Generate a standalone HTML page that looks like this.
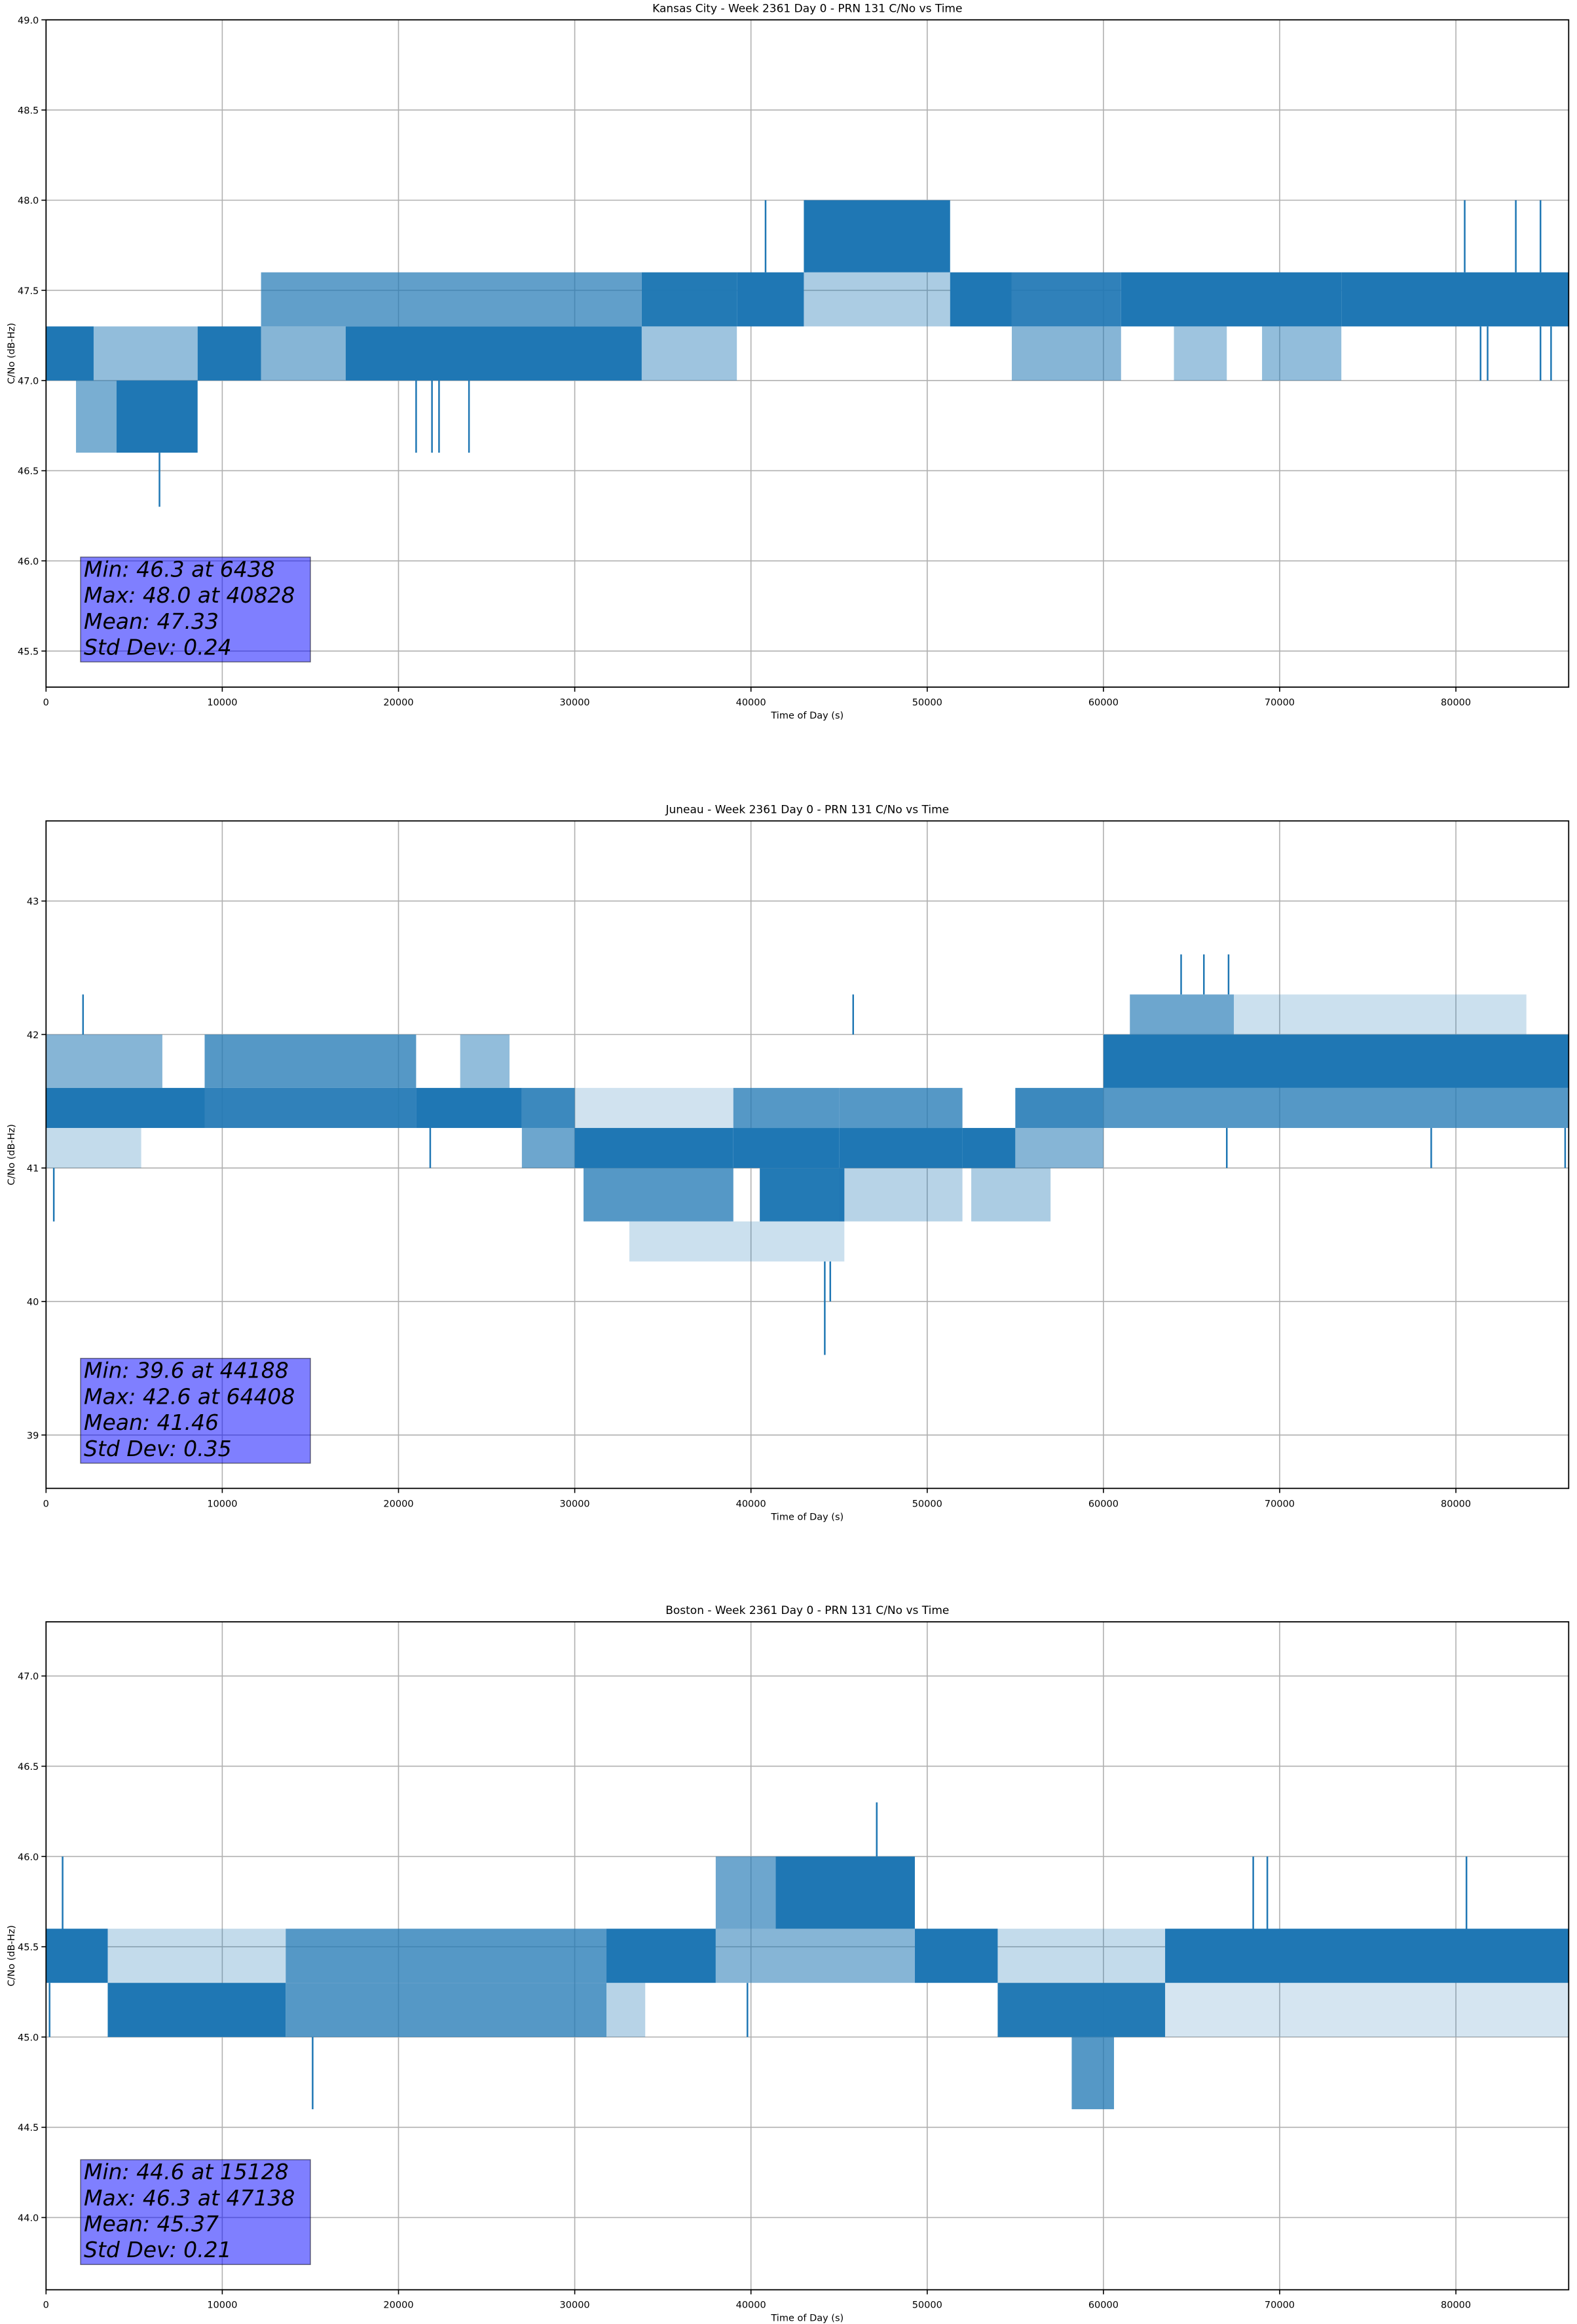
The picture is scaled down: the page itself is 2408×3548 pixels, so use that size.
<!DOCTYPE html>
<html><head><meta charset="utf-8"><style>
html,body{margin:0;padding:0;background:#fff;}
svg{display:block;}
text{font-family:"DejaVu Sans","Liberation Sans",sans-serif;fill:#000;}
</style></head>
<body>
<svg id="fig" width="2408" height="3548" viewBox="0 0 2408 3548" xmlns="http://www.w3.org/2000/svg"></svg>
<script>
// ---------- data ----------
const xTicks = [0,10000,20000,30000,40000,50000,60000,70000,80000];
const chartTitles = ["Kansas City - Week 2361 Day 0 - PRN 131 C/No vs Time","Juneau - Week 2361 Day 0 - PRN 131 C/No vs Time","Boston - Week 2361 Day 0 - PRN 131 C/No vs Time"];
const kcYTicks = [45.5,46.0,46.5,47.0,47.5,48.0,48.5,49.0];
const juYTicks = [39,40,41,42,43];
const boYTicks = [44.0,44.5,45.0,45.5,46.0,46.5,47.0];
const kcStats = ["Min: 46.3 at 6438","Max: 48.0 at 40828","Mean: 47.33","Std Dev: 0.24"];
const juStats = ["Min: 39.6 at 44188","Max: 42.6 at 64408","Mean: 41.46","Std Dev: 0.35"];
const boStats = ["Min: 44.6 at 15128","Max: 46.3 at 47138","Mean: 45.37","Std Dev: 0.21"];
// bands: [tStart, tEnd, low, high, density]
const kcBands = [
[0,2700,47.0,47.3,1],[2700,8600,47.0,47.3,0.35],[1700,4000,46.6,47.0,0.45],[4000,8600,46.6,47.0,0.9],
[8600,12200,47.0,47.3,1],[12200,17000,47.0,47.3,0.4],[12200,33800,47.3,47.6,0.55],[17000,33800,47.0,47.3,0.85],
[33800,39200,47.3,47.6,0.8],[33800,39200,47.0,47.3,0.3],[39200,43000,47.3,47.6,1],[43000,51300,47.6,48.0,0.85],
[43000,51300,47.3,47.6,0.25],[51300,54800,47.3,47.6,1],[54800,61000,47.3,47.6,0.75],[54800,61000,47.0,47.3,0.4],
[61000,73500,47.3,47.6,0.85],[64000,67000,47.0,47.3,0.3],[69000,73500,47.0,47.3,0.35],[73500,86400,47.3,47.6,1]];
// spikes: [t, from, to]
const kcSpikes = [[6438,46.6,46.3],[21000,47.0,46.6],[21900,47.0,46.6],[22300,47.0,46.6],[24000,47.0,46.6],
[40828,47.6,48.0],[43100,47.6,48.0],[80500,47.6,48.0],[83400,47.6,48.0],[84800,47.6,48.0],
[81400,47.3,47.0],[81800,47.3,47.0],[84800,47.3,47.0],[85400,47.3,47.0]];
const juBands = [
[0,9000,41.3,41.6,0.85],[0,6600,41.6,42.0,0.4],[0,5400,41.0,41.3,0.15],[9000,21000,41.3,41.6,0.75],
[9000,21000,41.6,42.0,0.6],[21000,27000,41.3,41.6,1],[23500,26300,41.6,42.0,0.35],[27000,30000,41.3,41.6,0.7],
[27000,30000,41.0,41.3,0.5],[30000,39000,41.0,41.3,0.9],[30500,39000,40.6,41.0,0.6],[30000,39000,41.3,41.6,0.1],
[39000,45000,41.3,41.6,0.6],[39000,45000,41.0,41.3,0.9],[40500,45300,40.6,41.0,0.8],[33100,45300,40.3,40.6,0.12],
[45000,52000,41.3,41.6,0.6],[45000,52000,41.0,41.3,1],[45000,52000,40.6,41.0,0.2],[52000,55000,41.0,41.3,1],
[52500,57000,40.6,41.0,0.25],[55000,60000,41.3,41.6,0.7],[55000,60000,41.0,41.3,0.4],[60000,86400,41.6,42.0,0.9],
[60000,86400,41.3,41.6,0.6],[61500,67400,42.0,42.3,0.5],[67400,84000,42.0,42.3,0.12]];
const juSpikes = [[2100,42.0,42.3],[45800,42.0,42.3],[64408,42.3,42.6],[65700,42.3,42.6],[67100,42.3,42.6],
[440,41.0,40.6],[44188,40.3,39.6],[44500,40.3,40.0],[67000,41.3,41.0],[78600,41.3,41.0],[86200,41.3,41.0],[21800,41.3,41.0]];
const boBands = [
[0,3500,45.3,45.6,1],[3500,13600,45.0,45.3,0.9],[3500,13600,45.3,45.6,0.15],[13600,31800,45.3,45.6,0.6],
[13600,31800,45.0,45.3,0.6],[31800,38000,45.3,45.6,0.9],[31800,34000,45.0,45.3,0.2],[38000,41400,45.6,46.0,0.5],
[41400,49300,45.6,46.0,0.85],[38000,49300,45.3,45.6,0.4],[49300,54000,45.3,45.6,0.9],[54000,63500,45.0,45.3,0.8],
[54000,63500,45.3,45.6,0.15],[58200,60600,44.6,45.0,0.6],[63500,86400,45.3,45.6,0.95],[63500,86400,45.0,45.3,0.08]];
const boSpikes = [[940,45.6,46.0],[15128,45.0,44.6],[47138,46.0,46.3],[68500,45.6,46.0],[69300,45.6,46.0],
[80600,45.6,46.0],[200,45.3,45.0],[39800,45.3,45.0]];

// ---------- rendering ----------
const NS = "http://www.w3.org/2000/svg";
const svg = document.getElementById('fig');
function mk(tag, attrs, parent){const e=document.createElementNS(NS,tag);for(const k in attrs)e.setAttribute(k,attrs[k]);(parent||svg).appendChild(e);return e;}

const X0=70.3, X1=2395.3, XMAX=86400;
function drawChart(idx, top, bottom, ymin, ymax, yTicks, yDec, bands, spikes, stats){
  const g = mk('g',{});
  
  
  const sx = t => X0 + (t/XMAX)*(X1-X0);
  const sy = v => bottom - (v-ymin)/(ymax-ymin)*(bottom-top);
  xTicks.forEach(t=>{
    const l=mk('line',{x1:sx(t),x2:sx(t),y1:top,y2:bottom,stroke:'#b0b0b0','stroke-width':1.6},g);
    
    
  });
  yTicks.forEach(v=>{
    const l=mk('line',{x1:X0,x2:X1,y1:sy(v),y2:sy(v),stroke:'#b0b0b0','stroke-width':1.6},g);
    
    
  });
  bands.forEach(b=>{
    const op=Math.min(1, 0.1 + b[4]*1.1);
    const r=mk('rect',{x:sx(b[0]),y:sy(b[3]),width:Math.max(1,sx(b[1])-sx(b[0])),height:sy(b[2])-sy(b[3]),fill:'#1f77b4','fill-opacity':op},g);
    
    
  });
  spikes.forEach(s=>{
    const l=mk('line',{x1:sx(s[0]),x2:sx(s[0]),y1:sy(s[1]),y2:sy(s[2]),stroke:'#1f77b4','stroke-width':2.5},g);
    
    
  });
  const bx=123, bw=351, bb=bottom-38.5, bh=160;
  const box=mk('rect',{x:bx,y:bb-bh,width:bw,height:bh,fill:'#0000ff','fill-opacity':0.5,stroke:'#000','stroke-opacity':0.5,'stroke-width':1.5},g);
  
  
  stats.forEach((s,i)=>{
    const t=mk('text',{x:128,y:bb-11-(3-i)*39.7,'font-size':33,'font-style':'italic'},g);
    t.textContent=s;
    
    
  });
  const fr=mk('rect',{x:X0,y:top,width:X1-X0,height:bottom-top,fill:'none',stroke:'#000','stroke-width':1.8},g);
  
  
  xTicks.forEach(t=>{
    mk('line',{x1:sx(t),x2:sx(t),y1:bottom,y2:bottom+7,stroke:'#000','stroke-width':1.6},g);
    const tx=mk('text',{x:sx(t),y:bottom+28,'font-size':14.5,'text-anchor':'middle'},g);
    tx.textContent=String(t);
    
    
  });
  yTicks.forEach(v=>{
    mk('line',{x1:X0-7,x2:X0,y1:sy(v),y2:sy(v),stroke:'#000','stroke-width':1.6},g);
    const ty=mk('text',{x:X0-11,y:sy(v)+5.5,'font-size':14.5,'text-anchor':'end'},g);
    ty.textContent=v.toFixed(yDec);
    
    
  });
  const ti=mk('text',{x:(X0+X1)/2,y:top-12,'font-size':17,'text-anchor':'middle'},g);
  ti.textContent=chartTitles[idx];
  
  
  const xl=mk('text',{x:(X0+X1)/2,y:bottom+48,'font-size':14.5,'text-anchor':'middle'},g);
  xl.textContent='Time of Day (s)';
  
  
  const cy=(top+bottom)/2;
  const yl=mk('text',{x:22,y:cy,'font-size':14.5,'text-anchor':'middle',transform:`rotate(-90 22 ${cy})`},g);
  yl.textContent='C/No (dB-Hz)';
  
  
}
drawChart(0, 30.3, 1049, 45.3, 49.0, kcYTicks, 1, kcBands, kcSpikes, kcStats);
drawChart(1, 1253.3, 2272.3, 38.6, 43.6, juYTicks, 0, juBands, juSpikes, juStats);
drawChart(2, 2476, 3495.7, 43.6, 47.3, boYTicks, 1, boBands, boSpikes, boStats);
</script>
</body></html>
